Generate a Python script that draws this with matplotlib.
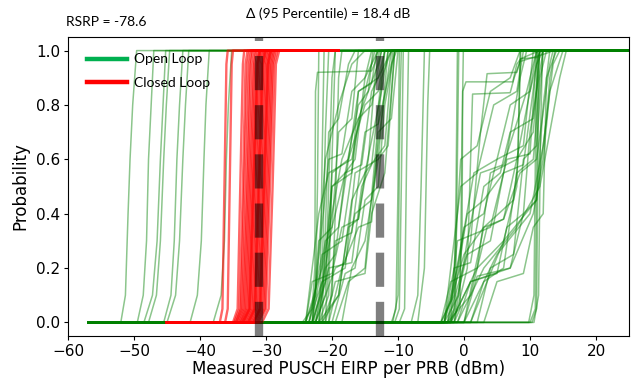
import matplotlib.pyplot as plt
from matplotlib.lines import Line2D

# ---- data ----
rsrp_text = 'RSRP = -78.6'
delta_text = 'Δ (95 Percentile) = 18.4 dB'
p95_closed = -31.1   # 95th percentile, closed loop
p95_open = -12.7     # 95th percentile, open loop

x_ticks = [-60, -50, -40, -30, -20, -10, 0, 10, 20]
y_ticks = [0.0, 0.2, 0.4, 0.6, 0.8, 1.0]

# every curve is a list of (EIRP dBm, probability) knots
open_loop_left = [
    [(-52.0, 0), (-51.3, 0.1), (-50.9, 0.4), (-50.6, 0.6), (-50.2, 0.8), (-49.6, 1.0)],
    [(-49.5, 0), (-48.6, 0.1), (-48.1, 0.3), (-47.8, 0.6), (-47.4, 0.8), (-47.0, 1.0)],
    [(-48.5, 0), (-47.2, 0.1), (-46.5, 0.3), (-46.0, 0.6), (-45.6, 0.8), (-45.2, 1.0)],
    [(-47.8, 0), (-46.6, 0.1), (-46.0, 0.3), (-45.5, 0.6), (-45.1, 0.8), (-44.6, 1.0)],
    [(-45.5, 0), (-44.4, 0.1), (-43.9, 0.3), (-43.5, 0.6), (-43.1, 0.8), (-42.6, 1.0)],
    [(-45.0, 0), (-43.7, 0.1), (-43.1, 0.3), (-42.6, 0.6), (-42.2, 0.8), (-41.7, 1.0)],
    [(-41.5, 0), (-40.4, 0.1), (-39.8, 0.3), (-39.4, 0.6), (-39.1, 0.8), (-38.6, 1.0)],
    [(-38.0, 0), (-36.8, 0.1), (-36.3, 0.3), (-36.0, 0.6), (-35.7, 0.8), (-35.2, 1.0)],
]

open_loop_mid = [
    [(-24.5, 0), (-23.0, 0.05), (-22.6, 0.2), (-22.5, 0.85), (-22.2, 0.92), (-14.0, 0.925), (-13.4, 0.96), (-13.0, 1.0)],
    [(-23.5, 0), (-22.5, 0.1), (-22.2, 0.5), (-22.0, 1.0)],
    [(-23.0, 0), (-21.8, 0.1), (-21.5, 0.6), (-21.2, 1.0)],
    [(-22.8, 0), (-21.5, 0.15), (-21.0, 0.7), (-20.5, 1.0)],
    [(-22.5, 0), (-21.0, 0.1), (-20.5, 0.5), (-20.0, 0.9), (-19.5, 1.0)],
    [(-22.0, 0), (-20.5, 0.1), (-20.0, 0.6), (-19.5, 1.0)],
    [(-21.5, 0), (-20.0, 0.1), (-19.5, 0.4), (-19.0, 0.9), (-18.5, 1.0)],
    [(-11.0, 0), (-10.3, 0.05), (-10.0, 0.5), (-9.8, 1.0)],
    [(-10.5, 0), (-9.8, 0.05), (-9.5, 0.5), (-9.2, 1.0)],
    [(-9.8, 0), (-9.0, 0.05), (-8.7, 0.6), (-8.4, 1.0)],
    [(-10.8, 0), (-10.0, 0.1), (-9.7, 0.8), (-9.5, 1.0)],
    [(-23.5, 0), (-21.5, 0.15), (-18.0, 0.2), (-16.5, 0.55), (-13.0, 0.6), (-11.5, 1.0)],
    [(-23.0, 0), (-21.0, 0.3), (-19.0, 0.35), (-17.5, 0.6), (-15.0, 0.8), (-13.0, 0.85), (-12.0, 1.0)],
    [(-22.5, 0), (-20.5, 0.2), (-17.0, 0.22), (-15.5, 0.5), (-14.0, 0.58), (-12.5, 0.9), (-11.0, 1.0)],
    [(-24.0, 0), (-22.0, 0.4), (-20.5, 0.55), (-17.0, 0.6), (-15.0, 0.85), (-13.5, 1.0)],
    [(-21.0, 0), (-19.5, 0.15), (-15.0, 0.18), (-14.0, 0.4), (-12.0, 0.55), (-10.5, 1.0)],
    [(-22.0, 0), (-20.0, 0.5), (-18.0, 0.55), (-16.0, 0.8), (-14.5, 0.85), (-13.8, 1.0)],
    [(-20.5, 0), (-18.5, 0.2), (-16.0, 0.35), (-14.0, 0.37), (-13.0, 0.7), (-11.0, 0.75), (-10.0, 1.0)],
    [(-23.0, 0), (-20.5, 0.6), (-18.5, 0.62), (-17.0, 0.85), (-15.0, 0.9), (-14.0, 1.0)],
    [(-22.0, 0), (-21.0, 0.2), (-19.5, 0.25), (-18.0, 0.55), (-16.5, 0.6), (-15.0, 0.9), (-13.0, 1.0)],
    [(-24.0, 0), (-22.5, 0.1), (-21.0, 0.6), (-19.0, 0.8), (-17.0, 0.95), (-15.0, 1.0)],
    [(-21.5, 0), (-19.0, 0.1), (-17.0, 0.45), (-15.0, 0.55), (-12.5, 0.85), (-11.5, 1.0)],
    [(-20.0, 0), (-18.0, 0.18), (-16.5, 0.2), (-15.0, 0.45), (-13.0, 0.5), (-12.0, 0.8), (-10.5, 1.0)],
    [(-23.5, 0), (-21.5, 0.25), (-18.5, 0.3), (-17.0, 0.55), (-16.0, 0.75), (-14.0, 0.8), (-12.5, 1.0)],
    [(-22.5, 0), (-20.0, 0.35), (-18.0, 0.55), (-15.5, 0.58), (-14.0, 0.85), (-12.0, 0.95), (-11.0, 1.0)],
    [(-19.5, 0), (-17.5, 0.15), (-15.0, 0.2), (-13.5, 0.6), (-12.0, 0.65), (-10.8, 1.0)],
    [(-23.0, 0), (-22.0, 0.3), (-20.0, 0.35), (-19.0, 0.7), (-17.0, 0.75), (-16.0, 1.0)],
    [(-21.0, 0), (-20.0, 0.5), (-17.0, 0.55), (-16.0, 0.85), (-13.0, 0.9), (-12.0, 1.0)],
    [(-24.0, 0), (-21.5, 0.2), (-20.0, 0.4), (-18.5, 0.6), (-16.0, 0.75), (-13.0, 0.95), (-12.5, 1.0)],
    [(-22.0, 0), (-19.0, 0.1), (-17.5, 0.35), (-16.0, 0.38), (-14.5, 0.6), (-13.5, 0.9), (-12.8, 1.0)],
    [(-20.5, 0), (-19.5, 0.3), (-17.0, 0.33), (-15.0, 0.7), (-13.0, 0.73), (-11.0, 0.95), (-10.2, 1.0)],
    [(-23.0, 0), (-21.0, 0.15), (-20.0, 0.55), (-17.5, 0.6), (-16.0, 0.85), (-14.0, 0.88), (-13.2, 1.0)],
    [(-22.5, 0), (-19.5, 0.2), (-18.0, 0.22), (-16.5, 0.4), (-14.0, 0.45), (-12.5, 0.75), (-11.0, 1.0)],
    [(-18.5, 0), (-17.0, 0.2), (-15.0, 0.3), (-13.0, 0.6), (-11.5, 0.65), (-10.5, 1.0)],
    [(-21.5, 0), (-20.5, 0.7), (-19.0, 0.75), (-17.5, 0.95), (-16.5, 1.0)],
    [(-24.0, 0), (-23.0, 0.15), (-20.0, 0.18), (-18.5, 0.35), (-16.0, 0.38), (-15.0, 0.55), (-13.5, 0.6), (-12.0, 1.0)],
    [(-8.0, 0), (-7.0, 0.1), (-6.5, 0.5), (-6.0, 1.0)],
    [(-7.0, 0), (-6.0, 0.2), (-5.5, 0.8), (-5.2, 1.0)],
]

open_loop_right = [
    [(-3.0, 0), (-0.8, 0.1), (-0.3, 0.3), (-0.2, 0.85), (0.3, 0.885), (7.4, 0.885), (8.0, 0.95), (8.6, 0.97), (11.2, 0.975), (11.6, 1.0)],
    [(-1.5, 0), (0.5, 0.2), (1.0, 0.6), (1.3, 0.84), (7.0, 0.845), (7.6, 0.9), (8.5, 0.96), (12.5, 0.99), (13.5, 1.0)],
    [(-2.5, 0), (1.0, 0.3), (2.5, 0.7), (3.5, 0.915), (8.0, 0.92), (8.6, 0.97), (10.5, 0.99), (11.5, 1.0)],
    [(-2.5, 0), (-1.5, 0.05), (-1.2, 0.5), (-1.0, 1.0)],
    [(-2.2, 0), (-1.3, 0.05), (-1.0, 0.6), (-0.8, 1.0)],
    [(-1.5, 0), (-0.6, 0.05), (-0.3, 0.7), (-0.1, 1.0)],
    [(10.0, 0), (10.8, 0.05), (11.0, 0.5), (11.2, 1.0)],
    [(10.3, 0), (11.0, 0.05), (11.2, 0.6), (11.4, 1.0)],
    [(9.8, 0), (10.6, 0.1), (10.9, 0.8), (11.1, 1.0)],
    [(10.6, 0), (11.3, 0.1), (11.6, 0.7), (11.9, 1.0)],
    [(-3.0, 0), (0.0, 0.25), (3.0, 0.35), (7.5, 0.45), (8.2, 0.6), (8.5, 1.0)],
    [(-2.0, 0), (2.0, 0.2), (6.0, 0.3), (8.0, 0.5), (8.6, 1.0)],
    [(-1.0, 0), (3.0, 0.2), (8.0, 0.35), (11.5, 0.5), (13.0, 0.7), (14.5, 0.9), (15.5, 1.0)],
    [(0.0, 0), (5.0, 0.25), (10.0, 0.4), (12.0, 0.65), (13.5, 0.95), (14.5, 1.0)],
    [(1.0, 0), (6.0, 0.3), (11.0, 0.45), (12.5, 0.75), (13.0, 0.9), (13.8, 1.0)],
    [(-2.0, 0), (1.0, 0.15), (7.0, 0.2), (10.5, 0.4), (12.0, 0.6), (13.0, 0.85), (15.0, 1.0)],
    [(-3.5, 0), (-2.0, 0.15), (2.0, 0.2), (4.0, 0.55), (8.0, 0.6), (10.0, 0.85), (11.0, 1.0)],
    [(-2.5, 0), (0.0, 0.35), (3.0, 0.4), (5.0, 0.6), (9.0, 0.65), (10.5, 1.0)],
    [(-3.0, 0), (-1.0, 0.2), (1.5, 0.55), (5.0, 0.6), (7.0, 0.8), (10.0, 0.85), (11.5, 1.0)],
    [(-1.0, 0), (1.0, 0.15), (5.0, 0.18), (6.5, 0.35), (9.0, 0.4), (10.0, 0.7), (12.0, 1.0)],
    [(-3.5, 0), (-1.5, 0.1), (0.5, 0.4), (3.0, 0.45), (6.0, 0.55), (8.5, 0.9), (9.5, 1.0)],
    [(-2.0, 0), (0.5, 0.25), (4.0, 0.3), (6.0, 0.55), (9.0, 0.58), (11.0, 0.95), (12.0, 1.0)],
    [(0.0, 0), (2.0, 0.17), (7.0, 0.2), (9.0, 0.4), (11.0, 0.45), (12.0, 0.8), (13.0, 1.0)],
    [(-3.0, 0), (-0.5, 0.5), (2.0, 0.55), (4.5, 0.8), (8.0, 0.85), (9.0, 1.0)],
    [(-2.5, 0), (1.0, 0.1), (3.5, 0.35), (6.0, 0.38), (8.0, 0.6), (10.5, 0.7), (11.5, 1.0)],
    [(1.0, 0), (3.0, 0.15), (6.0, 0.2), (8.0, 0.55), (10.5, 0.6), (11.5, 0.9), (12.5, 1.0)],
    [(-1.5, 0), (0.5, 0.3), (2.5, 0.55), (6.0, 0.58), (9.5, 0.85), (11.0, 1.0)],
    [(2.0, 0), (4.0, 0.2), (7.5, 0.25), (9.0, 0.6), (11.0, 0.65), (12.0, 1.0)],
    [(-3.0, 0), (-1.5, 0.2), (1.0, 0.22), (3.0, 0.5), (5.5, 0.55), (7.0, 0.7), (10.5, 0.75), (11.5, 1.0)],
    [(-2.0, 0), (-0.5, 0.6), (2.0, 0.65), (4.0, 0.85), (7.0, 0.9), (8.5, 1.0)],
    [(0.0, 0), (3.0, 0.35), (6.0, 0.38), (8.5, 0.55), (11.0, 0.6), (13.0, 0.95), (13.5, 1.0)],
    [(-3.5, 0), (-2.0, 0.08), (-1.0, 0.3), (4.0, 0.35), (6.5, 0.6), (10.0, 0.62), (11.0, 1.0)],
    [(3.0, 0), (5.0, 0.15), (9.0, 0.18), (10.5, 0.35), (12.0, 0.4), (12.5, 0.9), (14.0, 1.0)],
]

# closed loop curves: EIRP at probabilities 0, 0.05, 0.5, 0.95, 1
closed_p = [0, 0.05, 0.5, 0.95, 1.0]
closed_loop = [
    [-37.0, -36.6, -36.3, -36.0, -35.8],
    [-36.2, -35.8, -35.5, -35.2, -35.0],
    [-35.0, -34.3, -33.9, -33.5, -33.3],
    [-34.8, -34.0, -33.5, -33.1, -32.8],
    [-34.6, -33.8, -33.3, -32.8, -32.5],
    [-34.5, -33.6, -33.0, -32.5, -32.2],
    [-34.3, -33.4, -32.8, -32.3, -32.0],
    [-34.1, -33.2, -32.6, -32.0, -31.7],
    [-33.9, -33.0, -32.4, -31.8, -31.5],
    [-33.8, -32.8, -32.2, -31.6, -31.2],
    [-33.6, -32.6, -32.0, -31.4, -31.0],
    [-33.4, -32.4, -31.8, -31.2, -30.8],
    [-33.2, -32.2, -31.6, -31.0, -30.6],
    [-33.0, -32.0, -31.4, -30.8, -30.4],
    [-32.8, -31.8, -31.2, -30.6, -30.2],
    [-32.6, -31.6, -31.0, -30.4, -30.0],
    [-32.4, -31.4, -30.8, -30.2, -29.8],
    [-32.2, -31.2, -30.6, -30.0, -29.6],
    [-32.0, -31.0, -30.4, -29.8, -29.4],
    [-31.8, -30.8, -30.2, -29.6, -29.2],
    [-31.6, -30.6, -30.0, -29.4, -29.0],
    [-31.4, -30.4, -29.8, -29.2, -28.8],
    [-31.2, -30.2, -29.6, -29.0, -28.6],
    [-31.0, -30.0, -29.4, -28.8, -28.3],
    [-30.6, -29.6, -29.0, -28.5, -28.0],
    [-33.5, -32.5, -31.9, -31.3, -30.9],
    [-32.7, -31.7, -31.1, -30.5, -30.1],
    [-31.9, -30.9, -30.3, -29.7, -29.3],
]

open_start, open_end = -57.0, 30.0
closed_start, closed_end = -45.0, -19.0

fig = plt.figure(figsize=(6.31, 3.79), dpi=100)
ax = fig.add_axes([68 / 631, 1 - 336 / 379, 561 / 631, 299 / 379])

for curve in open_loop_left + open_loop_mid + open_loop_right:
    xs = [open_start] + [c[0] for c in curve] + [open_end]
    ys = [0] + [c[1] for c in curve] + [1]
    ax.plot(xs, ys, color='green', lw=1.1, alpha=0.45)

for q in closed_loop:
    xs = [closed_start] + q + [closed_end]
    ys = [0] + closed_p + [1]
    ax.plot(xs, ys, color='red', lw=1.7, alpha=0.6)

for xv in (p95_closed, p95_open):
    ax.axvline(xv, color='black', alpha=0.5, lw=6, dashes=(4.1, 1.8), zorder=5)

ax.set_xlim(-60, 25)
ax.set_ylim(-0.05, 1.05)
ax.set_xticks(x_ticks)
ax.set_yticks(y_ticks)
ax.tick_params(labelsize=11, length=3, pad=2.5)
ax.set_xlabel('Measured PUSCH EIRP per PRB (dBm)', fontsize=12, labelpad=1)
ax.set_ylabel('Probability', fontsize=12, labelpad=5)

handles = [Line2D([0], [0], color='#00b050', lw=3.2),
           Line2D([0], [0], color='#ff0000', lw=3.2)]
ax.legend(handles, ['Open Loop', 'Closed Loop'], loc='upper left',
          bbox_to_anchor=(0.034, 0.945), frameon=False, borderpad=0,
          borderaxespad=0, handlelength=2.9, handletextpad=0.45,
          labelspacing=0.85, prop={'family': 'Lato', 'size': 10})

fig.text(66 / 631, 1 - 22 / 379, rsrp_text, family='Lato', fontsize=10,
         ha='left', va='center')
fig.text(328 / 631, 1 - 14 / 379, delta_text, family='Lato', fontsize=10,
         ha='center', va='center')

fig.savefig('out.png', dpi=100)
